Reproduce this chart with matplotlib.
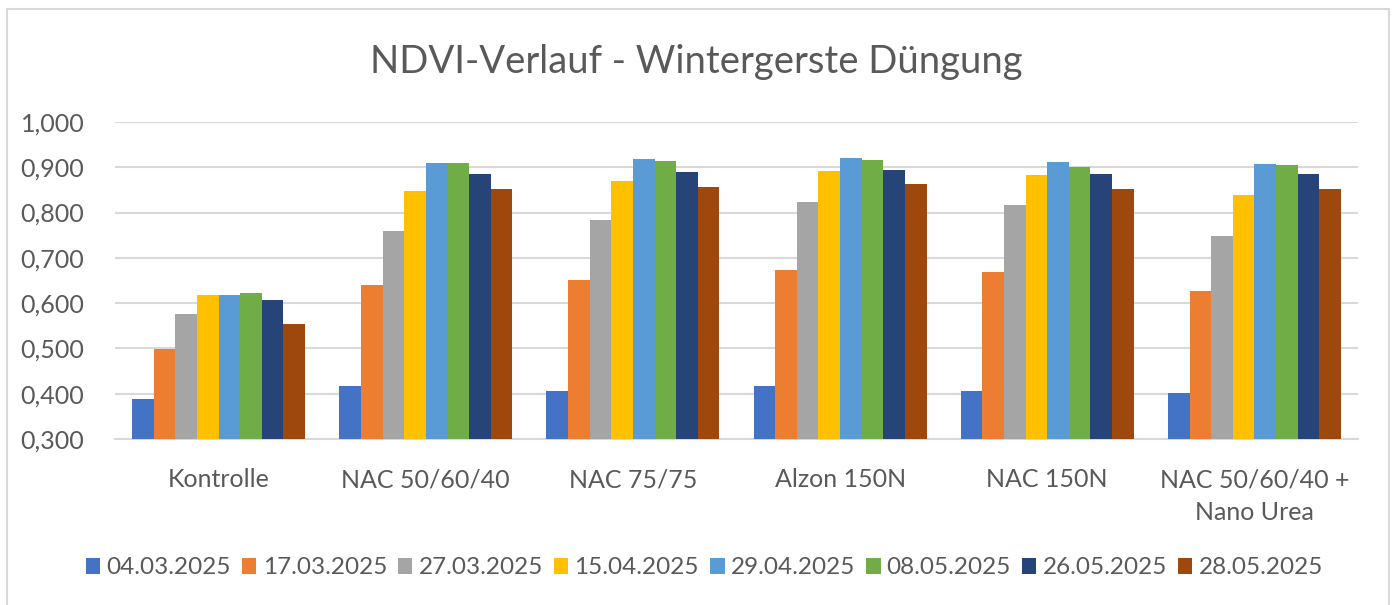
import numpy as np
import matplotlib
matplotlib.use("Agg")
import matplotlib.pyplot as plt
from matplotlib.patches import Rectangle
from matplotlib.ticker import FuncFormatter

plt.rcParams['font.family'] = ['Lato', 'DejaVu Sans']

# Daten
categories = ['Kontrolle', 'NAC 50/60/40', 'NAC 75/75', 'Alzon 150N',
              'NAC 150N', 'NAC 50/60/40 +\nNano Urea']
dates = ['04.03.2025', '17.03.2025', '27.03.2025', '15.04.2025',
         '29.04.2025', '08.05.2025', '26.05.2025', '28.05.2025']
v_0403 = [0.388, 0.416, 0.407, 0.416, 0.405, 0.402]
v_1703 = [0.499, 0.641, 0.651, 0.674, 0.668, 0.626]
v_2703 = [0.576, 0.760, 0.784, 0.823, 0.816, 0.749]
v_1504 = [0.617, 0.847, 0.869, 0.891, 0.884, 0.838]
v_2904 = [0.617, 0.909, 0.919, 0.920, 0.911, 0.908]
v_0805 = [0.623, 0.909, 0.913, 0.915, 0.900, 0.906]
v_2605 = [0.606, 0.886, 0.890, 0.894, 0.885, 0.885]
v_2805 = [0.554, 0.853, 0.856, 0.864, 0.853, 0.853]
series = [v_0403, v_1703, v_2703, v_1504, v_2904, v_0805, v_2605, v_2805]
colors = ['#4472C4', '#ED7D31', '#A5A5A5', '#FFC000',
          '#5B9BD5', '#70AD47', '#264478', '#9E480E']

grey = '#595959'

fig = plt.figure(figsize=(13.92, 6.05), dpi=100)
# Rahmen wie im Excel-Diagramm
fig.patches.append(Rectangle((7 / 1392, -0.01), (1389 - 7) / 1392, 1 - 9 / 605 + 0.01,
                             transform=fig.transFigure, fill=False,
                             edgecolor='#D9D9D9', linewidth=1.5))

ax = fig.add_axes([115 / 1392, 1 - 439 / 605, (1358 - 115) / 1392, (439 - 122) / 605])

x = np.arange(len(categories))
n = len(series)
group = 0.835
w = group / n
for i, (vals, c, d) in enumerate(zip(series, colors, dates)):
    ax.bar(x - group / 2 + (i + 0.5) * w, vals, width=w, color=c, label=d, zorder=3)

ax.set_xlim(-0.5, len(categories) - 0.5)
ax.set_ylim(0.3, 1.0)
ax.set_yticks(np.arange(0.3, 1.001, 0.1))
ax.yaxis.set_major_formatter(FuncFormatter(lambda v, p: f'{v:.3f}'.replace('.', ',')))
ax.set_xticks(x)
ax.set_xticklabels(categories, linespacing=1.5)
ax.grid(axis='y', color='#D9D9D9', linewidth=1.5, zorder=0)
for s in ['top', 'right', 'left']:
    ax.spines[s].set_visible(False)
ax.spines['bottom'].set_color('#D9D9D9')
ax.spines['bottom'].set_linewidth(1.5)
ax.tick_params(axis='both', length=0, colors=grey, labelsize=18)
ax.tick_params(axis='x', pad=21)
ax.tick_params(axis='y', pad=22)

fig.text(0.5, 1 - 62 / 605, 'NDVI-Verlauf - Wintergerste Düngung', ha='center', va='center',
         fontsize=27.5, color=grey)

fig.legend(loc='center', bbox_to_anchor=(0.506, 1 - 568 / 605), ncol=8, frameon=False,
           fontsize=17.5, labelcolor=grey, handlelength=0.6, handleheight=0.6,
           handletextpad=0.25, columnspacing=0.45)

fig.savefig('out.png', dpi=100)
